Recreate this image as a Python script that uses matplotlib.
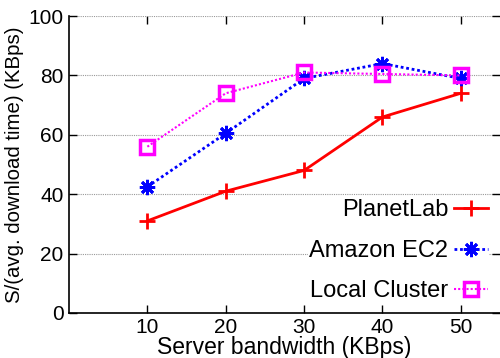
import matplotlib
matplotlib.use("Agg")
import matplotlib.pyplot as plt

bandwidth = [10, 20, 30, 40, 50]
planetlab = [31, 41, 48, 66, 74]
amazon_ec2 = [42.5, 60.5, 79, 84, 79]
local_cluster = [56, 74, 81, 80.5, 80]
x_ticks = [10, 20, 30, 40, 50]
y_ticks = [0, 20, 40, 60, 80, 100]

plt.rcParams['font.family'] = ['Liberation Sans', 'DejaVu Sans']

fig = plt.figure(figsize=(5, 3.58), dpi=100)
ax = fig.add_axes([0.138, 0.126, 0.862, 0.829])

ax.plot(bandwidth, planetlab, color='#ff0000', lw=2, ls='-', marker='+',
        ms=12, mew=2, label='PlanetLab')
ax.plot(bandwidth, amazon_ec2, color='#0000ff', lw=2, ls=(0, (1, 1)),
        marker=(8, 2, 0), ms=11, mew=2, label='Amazon EC2')
ax.plot(bandwidth, local_cluster, color='#ff00ff', lw=1.5, ls=(0, (1, 1)),
        marker='s', ms=10, mew=2.5, mfc='none', label='Local Cluster')

ax.set_xlim(0, 55)
ax.set_ylim(0, 100)
ax.set_xticks(x_ticks)
ax.set_yticks(y_ticks)
ax.tick_params(direction='in', length=6, width=1, labelsize=15,
               top=True, right=True, pad=4)
ax.spines['top'].set_visible(False)
ax.spines['right'].set_visible(False)
ax.spines['left'].set_linewidth(1.2)
ax.spines['bottom'].set_linewidth(1.2)
ax.yaxis.grid(True, color='#999999', ls=(0, (1, 1)), lw=0.8)
ax.set_axisbelow(True)

ax.set_xlabel('Server bandwidth (KBps)', fontsize=16.5, labelpad=-1)
ax.set_ylabel('S/(avg. download time) (KBps)', fontsize=14.7, labelpad=3)

leg = ax.legend(loc='lower right', bbox_to_anchor=(1.0, -0.004), markerfirst=False,
                fontsize=17, frameon=True, framealpha=1, facecolor='white',
                edgecolor='none', fancybox=False, handlelength=1.45,
                labelspacing=0.78, borderpad=0.05, handletextpad=0.25,
                borderaxespad=0.45)

fig.savefig('out.png', dpi=100)
